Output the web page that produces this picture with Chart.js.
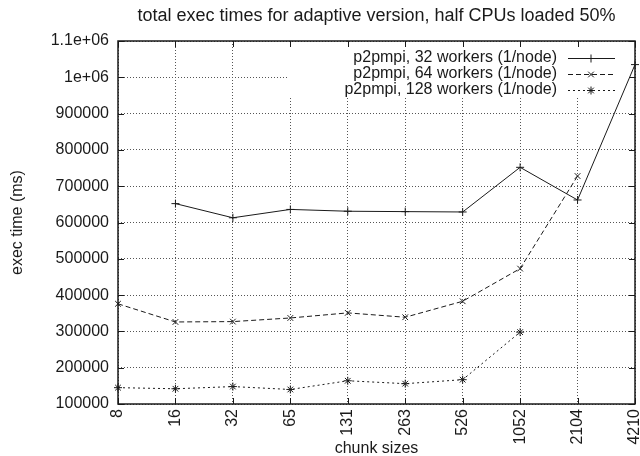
<!DOCTYPE html>
<html>
<head>
  <meta charset="utf-8">
  <script src="https://cdn.jsdelivr.net/npm/chart.js@4.4.1/dist/chart.umd.min.js"></script>
  <style>
    * { margin: 0; padding: 0; box-sizing: border-box; }
    body { background: #fff; width: 640px; height: 456px; overflow: hidden; }
    .chart-container { position: relative; width: 640px; height: 456px; }
  </style>
</head>
<body>
  <div class="chart-container">
    <canvas id="chart"></canvas>
  </div>
  <script>
    // chunk sizes (x categories)
    const chunkSizes = ['8', '16', '32', '65', '131', '263', '526', '1052', '2104', '4210'];
    // exec times in ms
    const workers32 = [null, 652000, 613000, 636000, 631000, 630000, 629000, 752000, 662000, 1035000];
    const workers64 = [376000, 326000, 327000, 337000, 351000, 339000, 383000, 473000, 728000, null];
    const workers128 = [145000, 142000, 148000, 140000, 164000, 156000, 167000, 298000, null, null];
    const seriesNames = [
      'p2pmpi, 32 workers (1/node)',
      'p2pmpi, 64 workers (1/node)',
      'p2pmpi, 128 workers (1/node)'
    ];

    const FONT = '"Liberation Sans", Arial, Helvetica, sans-serif';
    const INK = '#1a1a1a';
    const GRID = '#555';
    const TITLE = 'total exec times for adaptive version, half CPUs loaded 50%';

    const styles = [
      { dash: [], point: 'cross' },
      { dash: [5, 3], point: 'crossRot' },
      { dash: [2, 3], point: 'star' }
    ];

    function makeSet(label, data, st) {
      return {
        label: label,
        data: data,
        borderColor: INK,
        backgroundColor: INK,
        borderWidth: 1,
        borderDash: st.dash,
        pointStyle: st.point,
        pointRadius: 4,
        pointBorderWidth: 1,
        pointBorderColor: INK,
        tension: 0,
        clip: false
      };
    }

    // gnuplot-ish frame, inward ticks, key box and title
    const gnuplotLook = {
      id: 'gnuplotLook',
      beforeDatasetsDraw(chart) {
        const ctx = chart.ctx;
        const a = chart.chartArea;
        // key box hides the grid behind it
        ctx.save();
        ctx.fillStyle = '#fff';
        ctx.fillRect(289, a.top + 1, a.right - 289 - 1, 96 - a.top);
        ctx.restore();
      },
      afterDatasetsDraw(chart) {
        const ctx = chart.ctx;
        const a = chart.chartArea;
        const xs = chart.scales.x, ys = chart.scales.y;
        ctx.save();
        ctx.strokeStyle = INK;
        ctx.lineWidth = 1;
        ctx.setLineDash([]);
        const tl = 6;
        ctx.beginPath();
        xs.ticks.forEach((t, i) => {
          const px = Math.round(xs.getPixelForTick(i)) + 0.5;
          ctx.moveTo(px, a.bottom); ctx.lineTo(px, a.bottom - tl);
          ctx.moveTo(px, a.top); ctx.lineTo(px, a.top + tl);
        });
        ys.ticks.forEach((t, i) => {
          const py = Math.round(ys.getPixelForTick(i)) + 0.5;
          ctx.moveTo(a.left, py); ctx.lineTo(a.left + tl, py);
          ctx.moveTo(a.right, py); ctx.lineTo(a.right - tl, py);
        });
        ctx.stroke();
        ctx.lineWidth = 1.5;
        ctx.strokeRect(a.left, a.top, a.right - a.left, a.bottom - a.top);

        // key
        ctx.font = '16px ' + FONT;
        ctx.fillStyle = INK;
        ctx.textAlign = 'right';
        ctx.textBaseline = 'middle';
        const rows = [58, 74, 90];
        chart.data.datasets.forEach((ds, i) => {
          const y = rows[i];
          ctx.fillText(seriesNames[i], 557, y);
          ctx.lineWidth = 1;
          ctx.setLineDash(styles[i].dash);
          ctx.beginPath();
          ctx.moveTo(568, y + 0.5);
          ctx.lineTo(615, y + 0.5);
          ctx.stroke();
          ctx.setLineDash([]);
          Chart.helpers.drawPoint(ctx, { pointStyle: styles[i].point, radius: 4, borderWidth: 1, rotation: 0 }, 591, y + 0.5);
        });

        // title
        ctx.font = '18px ' + FONT;
        ctx.textAlign = 'center';
        ctx.fillText(TITLE, (a.left + a.right) / 2, 16);
        ctx.restore();
      }
    };

    new Chart(document.getElementById('chart'), {
      type: 'line',
      data: {
        labels: chunkSizes,
        datasets: [
          makeSet(seriesNames[0], workers32, styles[0]),
          makeSet(seriesNames[1], workers64, styles[1]),
          makeSet(seriesNames[2], workers128, styles[2])
        ]
      },
      options: {
        responsive: true,
        maintainAspectRatio: false,
        animation: false,
        layout: { padding: { top: 41, right: 4, left: 0, bottom: 0 } },
        plugins: {
          legend: { display: false },
          tooltip: { enabled: false },
          title: { display: false }
        },
        scales: {
          x: {
            type: 'category',
            offset: false,
            grid: { color: GRID, lineWidth: 1, drawTicks: false },
            border: { display: false, dash: [1, 2] },
            ticks: {
              color: INK,
              font: { family: FONT, size: 16 },
              minRotation: 90,
              maxRotation: 90,
              autoSkip: false,
              padding: 5
            },
            title: {
              display: true,
              text: 'chunk sizes',
              color: INK,
              font: { family: FONT, size: 16 },
              padding: { top: 0, bottom: -2 }
            },
            afterFit(scale) {
              scale.height = 52;
              scale.paddingLeft = 0;
              scale.paddingRight = 0;
            }
          },
          y: {
            min: 100000,
            max: 1100000,
            grid: { color: GRID, lineWidth: 1, drawTicks: false },
            border: { display: false, dash: [1, 2] },
            ticks: {
              stepSize: 100000,
              color: INK,
              font: { family: FONT, size: 16 },
              padding: 9,
              callback: function (v) {
                if (v === 1100000) return '1.1e+06';
                if (v === 1000000) return '1e+06';
                return String(v);
              }
            },
            title: {
              display: true,
              text: 'exec time (ms)',
              color: INK,
              font: { family: FONT, size: 16 },
              padding: { top: 8, bottom: 0 }
            },
            afterFit(scale) {
              scale.width = 118;
            }
          }
        }
      },
      plugins: [gnuplotLook]
    });
  </script>
</body>
</html>
